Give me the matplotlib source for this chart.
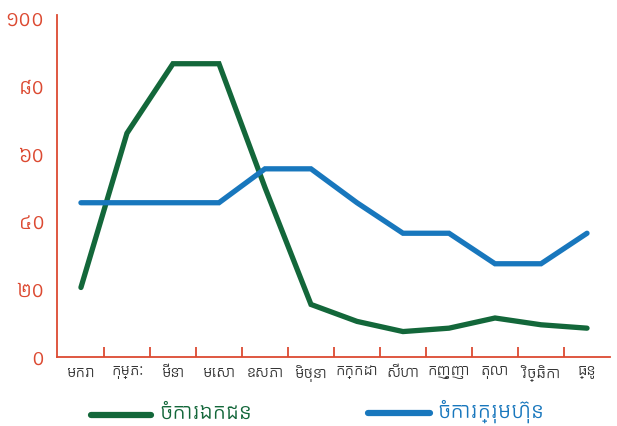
import numpy as np
import matplotlib
matplotlib.use('Agg')
from matplotlib import pyplot as plt

months = ['មករា', 'កុម្ភៈ', 'មីនា', 'មេសា', 'ឧសភា', 'មិថុនា',
          'កក្កដា', 'សីហា', 'កញ្ញា', 'តុលា', 'វិច្ឆិកា', 'ធ្នូ']
private = [20.5, 66, 86.5, 86.5, 50, 15.5, 10.5, 7.5, 8.5, 11.5, 9.5, 8.5]
company = [45.5, 45.5, 45.5, 45.5, 55.5, 55.5, 45.5, 36.5, 36.5, 27.5, 27.5, 36.5]
yticks = [0, 20, 40, 60, 80, 100]
ytick_labels = ['០', '២០', '៤០', '៦០', '៨០', '១០០']
legend_labels = ['ចំការឯកជន', 'ចំការក្រុមហ៊ុន']

plt.rcParams['font.family'] = ['Kantumruy Pro', 'Noto Sans Khmer', 'DejaVu Sans']

green = '#13673a'
blue = '#1877bd'
red = '#dc4a32'

fig = plt.figure(figsize=(6.17, 4.26), dpi=100)
ax = fig.add_axes([0.0924, 0.162, 0.8963, 0.803])
x = np.arange(len(months))
ax.plot(x, private, color=green, lw=3.8, solid_capstyle='round', solid_joinstyle='miter')
ax.plot(x, company, color=blue, lw=3.8, solid_capstyle='round', solid_joinstyle='miter')

ax.set_xlim(-0.52, 11.5)
ax.set_ylim(0, 100.9)
for s in ['top', 'right']:
    ax.spines[s].set_visible(False)
for s in ['left', 'bottom']:
    ax.spines[s].set_color(red)
    ax.spines[s].set_linewidth(1.3)

ax.set_yticks(yticks)
ax.set_yticklabels(ytick_labels, color=red, fontsize=15.5)
ax.tick_params(axis='y', length=0, pad=9)

ax.set_xticks(x[:-1] + 0.5)
ax.tick_params(axis='x', direction='in', length=7, width=1.3, color=red, labelbottom=False)
for i, m in enumerate(months):
    ax.text(i, -2.5, m, ha='center', va='top', fontsize=11, color='#333333')

# legend drawn below the axes
fig.add_artist(plt.Line2D([0.147, 0.245], [0.026, 0.026], color=green, lw=4.5,
                          solid_capstyle='round', transform=fig.transFigure))
fig.text(0.258, 0.03, legend_labels[0], color=green, fontsize=15.5, va='center')
fig.add_artist(plt.Line2D([0.597, 0.697], [0.031, 0.031], color=blue, lw=4.5,
                          solid_capstyle='round', transform=fig.transFigure))
fig.text(0.708, 0.035, legend_labels[1], color=blue, fontsize=15.5, va='center')

fig.savefig('out.png', dpi=100)
